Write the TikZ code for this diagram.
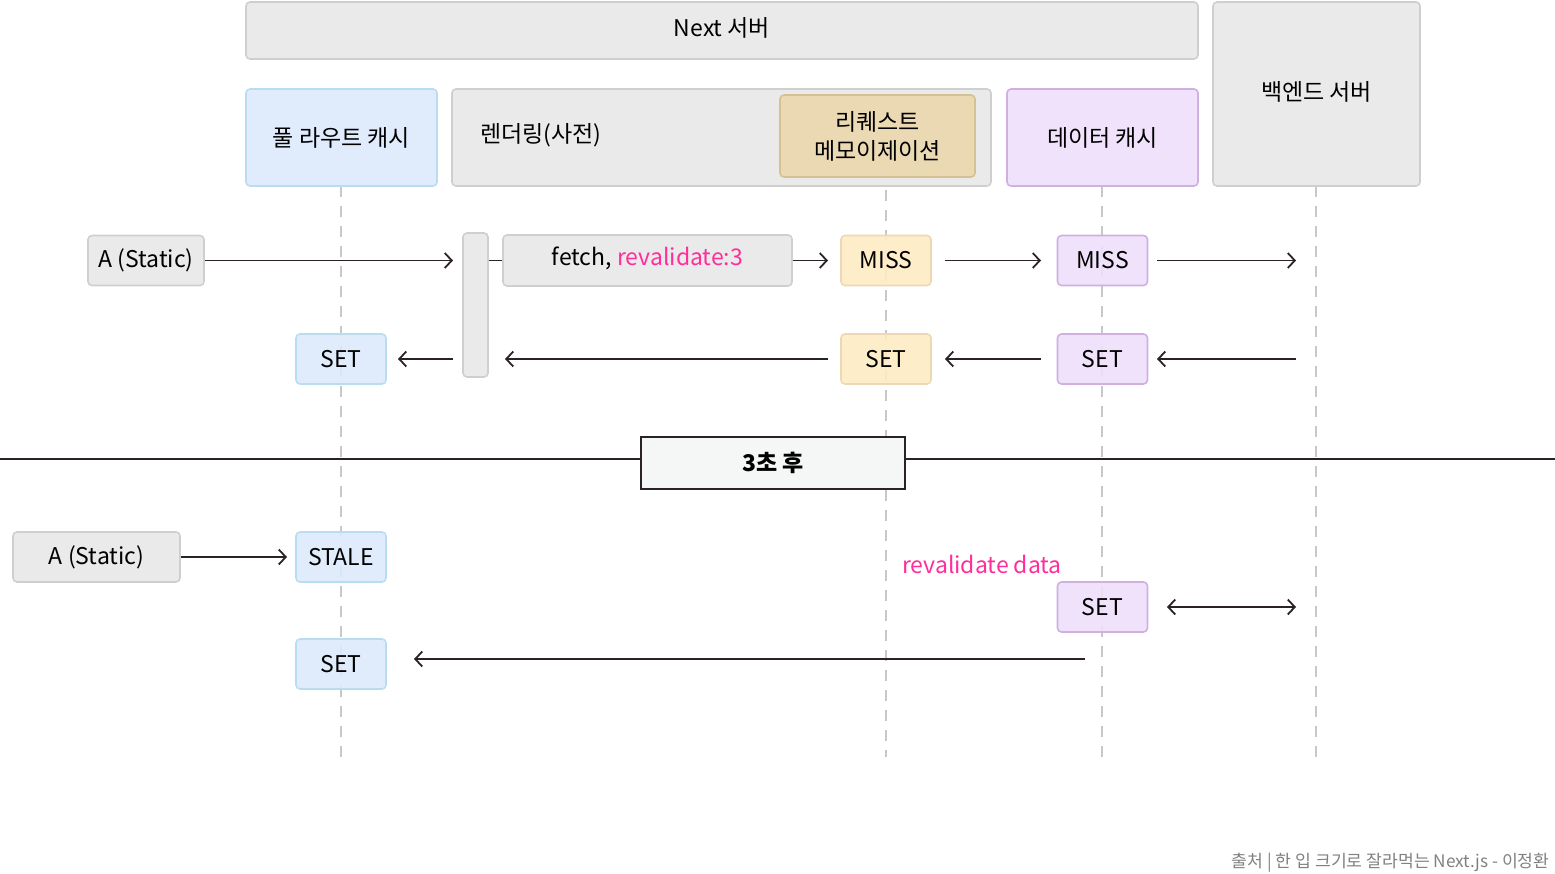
\documentclass[tikz,border=0pt]{standalone}
\usepackage{fontspec}
\setmainfont{Noto Sans CJK KR}
\usetikzlibrary{arrows.meta}
\definecolor{gfill}{HTML}{E8E8E8}
\definecolor{gline}{HTML}{CFCFCF}
\definecolor{bfill}{HTML}{DDE9FC}
\definecolor{bline}{HTML}{B9DCF3}
\definecolor{tfill}{HTML}{ECD8AE}
\definecolor{tline}{HTML}{D4C195}
\definecolor{yfill}{HTML}{FDEBC3}
\definecolor{yline}{HTML}{ECD9B4}
\definecolor{pfill}{HTML}{EEDFF9}
\definecolor{pline}{HTML}{CFB0E0}
\definecolor{pink}{HTML}{FF2E9A}
\definecolor{ink}{HTML}{2B2323}
\definecolor{life}{HTML}{C8C8C8}
\definecolor{foot}{HTML}{808080}
\definecolor{afill}{HTML}{F5F7F6}
\tikzset{
  lbl/.style={font=\fontsize{23}{27}\selectfont},
  box/.style={rectangle, rounded corners=4pt, line width=1.6pt, inner sep=0pt,
    lbl, text=black, fill opacity=0.9, text opacity=1},
  gbox/.style={box, fill=gfill, draw=gline},
  bbox/.style={box, fill=bfill, draw=bline},
  tbox/.style={box, fill=tfill, draw=tline},
  ybox/.style={box, fill=yfill, draw=yline},
  pbox/.style={box, fill=pfill, draw=pline},
  small/.style={minimum width=90pt, minimum height=50pt},
  arr/.style={draw=ink, line width=1.8pt, -{Straight Barb[length=7pt,width=15pt,line width=1.8pt]}},
  darr/.style={draw=ink, line width=1.8pt, {Straight Barb[length=7pt,width=15pt,line width=1.8pt]}-{Straight Barb[length=7pt,width=15pt,line width=1.8pt]}},
  plain/.style={draw=ink, line width=1.8pt},
  lifeline/.style={draw=life, line width=1.6pt, dash pattern=on 11pt off 9pt},
}
\begin{document}
\begin{tikzpicture}[x=1pt,y=-1pt]
\useasboundingbox (0,0) rectangle (1555,874);
% lifelines (behind boxes)
\coordinate (l1t) at (341,186); \coordinate (l1b) at (341,757);
\coordinate (l2t) at (886,190); \coordinate (l2b) at (886,757);
\coordinate (l3t) at (1102,186); \coordinate (l3b) at (1102,757);
\coordinate (l4t) at (1316,186); \coordinate (l4b) at (1316,757);
\draw[lifeline] (l1t) -- (l1b);
\draw[lifeline] (l2t) -- (l2b);
\draw[lifeline] (l3t) -- (l3b);
\draw[lifeline] (l4t) -- (l4b);
% separator
\coordinate (sepL) at (0,459); \coordinate (sepR) at (1555,459);
\draw[plain] (sepL) -- (sepR);
% header boxes
\node[gbox, minimum width=952pt, minimum height=57pt] (next) at (722,30.5) {};
\node[lbl] (nextT) at (722,28) {Next 서버};
\node[gbox, minimum width=207pt, minimum height=184pt] (backend) at (1316.5,94) {};
\node[lbl] (backendT) at (1316.5,92) {백엔드 서버};
\node[bbox, minimum width=191pt, minimum height=97pt] (frc) at (341.5,137.5) {풀 라우트 캐시};
\node[gbox, minimum width=539pt, minimum height=97pt] (render) at (721.5,137.5) {};
\node[lbl] (renderT) at (541,135) {렌더링(사전)};
\node[tbox, minimum width=195pt, minimum height=82pt, align=center] (memo) at (877.5,136) {리퀘스트\\[2pt]메모이제이션};
\node[pbox, minimum width=191pt, minimum height=97pt] (dcache) at (1102.5,137.5) {데이터 캐시};
% first request
\node[gbox, minimum width=116pt, minimum height=50pt] (aTop) at (146,260.5) {A (Static)};
\node[gbox, minimum width=25pt, minimum height=144pt] (bar) at (475.5,305) {};
\node[gbox, minimum width=289pt, minimum height=51pt] (fetch) at (647.5,260.5) {};
\node[lbl] (fetchT) at (647.5,258.5) {fetch, \textcolor{pink}{revalidate:3}};
\node[ybox, small] (missY) at (886,260.5) {MISS};
\node[pbox, small] (missP) at (1102.5,260.5) {MISS};
\node[bbox, small] (setB1) at (341,359) {SET};
\node[ybox, small] (setY) at (886,359) {SET};
\node[pbox, small] (setP1) at (1102.5,359) {SET};
\coordinate (a1e) at (453,260.5);
\coordinate (f1e) at (828,260.5);
\coordinate (m1s) at (945,260.5); \coordinate (m1e) at (1041,260.5);
\coordinate (m2s) at (1157,260.5); \coordinate (m2e) at (1296,260.5);
\draw[arr] (aTop.east) -- (a1e);
\draw[plain] (bar.east |- fetch.west) -- (fetch.west);
\draw[arr] (fetch.east) -- (f1e);
\draw[arr] (m1s) -- (m1e);
\draw[arr] (m2s) -- (m2e);
\coordinate (r1s) at (1296,359); \coordinate (r1e) at (1157,359);
\coordinate (r2s) at (1041,359); \coordinate (r2e) at (945,359);
\coordinate (r3s) at (828,359); \coordinate (r3e) at (505,359);
\coordinate (r4s) at (453,359); \coordinate (r4e) at (398,359);
\draw[arr] (r1s) -- (r1e);
\draw[arr] (r2s) -- (r2e);
\draw[arr] (r3s) -- (r3e);
\draw[arr] (r4s) -- (r4e);
% after 3 seconds
\node[rectangle, draw=ink, line width=2pt, fill=afill, minimum width=264pt, minimum height=52pt, font=\fontsize{23}{27}\selectfont\bfseries] (after) at (773,463) {3초 후};
% second request
\node[gbox, minimum width=167pt, minimum height=50pt] (aBot) at (96.5,557) {A (Static)};
\node[bbox, small] (stale) at (341,557) {STALE};
\node[pbox, small] (setP2) at (1102.5,607) {SET};
\node[bbox, small] (setB2) at (341,664) {SET};
\node[text=pink, lbl] (reval) at (982,564) {revalidate data};
\coordinate (s1e) at (287,557);
\draw[arr] (aBot.east) -- (s1e);
\coordinate (d1s) at (1167,607); \coordinate (d1e) at (1296,607);
\draw[darr] (d1s) -- (d1e);
\coordinate (b1s) at (1085,659); \coordinate (b1e) at (414,659);
\draw[arr] (b1s) -- (b1e);
% footer
\node[anchor=east, text=foot, font=\fontsize{17.2}{20}\selectfont] (footer) at (1553,863) {출처 | 한 입 크기로 잘라먹는 Next.js - 이정환};
\end{tikzpicture}
\end{document}
